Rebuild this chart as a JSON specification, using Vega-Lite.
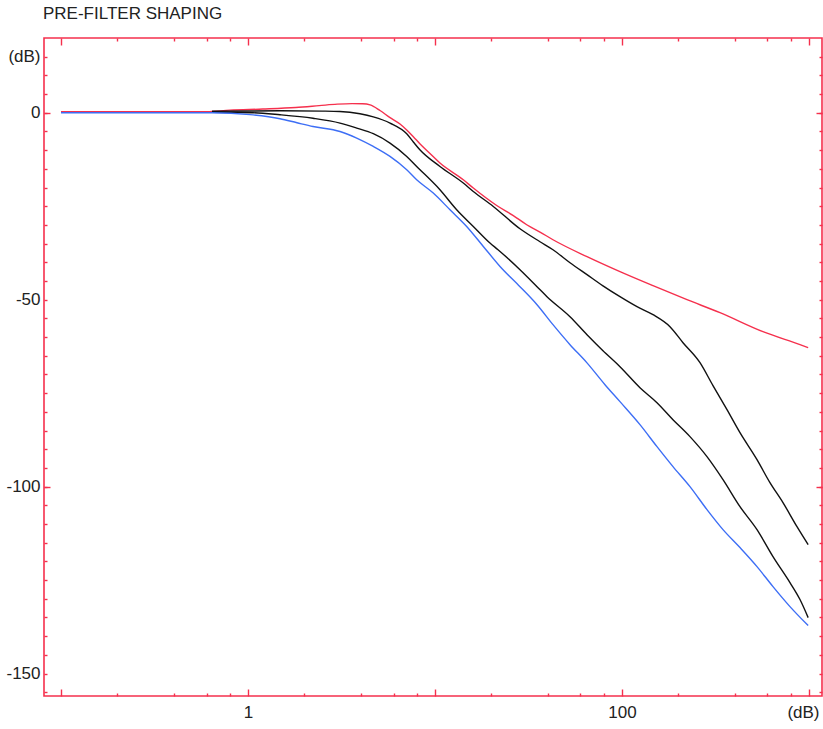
{
  "$schema": "https://vega.github.io/schema/vega-lite/v6.json",
  "width": 778,
  "height": 658,
  "autosize": {"type": "none"},
  "padding": {"left": 44, "top": 38, "right": 1, "bottom": 33},
  "background": "white",
  "title": {"text": "PRE-FILTER SHAPING", "anchor": "start", "frame": "group", "dx": -1, "font": "Liberation Sans", "fontSize": 17, "fontWeight": "normal", "color": "#222222", "offset": 14},
  "config": {
    "view": {"stroke": "#f5304d", "strokeWidth": 1.6},
    "axis": {"domain": false, "grid": false, "tickColor": "#f5304d", "tickWidth": 1.4, "labelFont": "Liberation Sans", "labelFontSize": 17, "labelColor": "#222222", "title": null, "labelOverlap": false, "labelBound": false, "labelFlush": false}
  },
  "data": {"values": [
    {"s": "red", "f": 0.1, "db": 0.27}, {"s": "red", "f": 0.6, "db": 0.3}, {"s": "red", "f": 0.8, "db": 0.7}, {"s": "red", "f": 1.2, "db": 1.0}, {"s": "red", "f": 1.8, "db": 1.4}, {"s": "red", "f": 2.4, "db": 1.9}, {"s": "red", "f": 3.0, "db": 2.3}, {"s": "red", "f": 3.6, "db": 2.45}, {"s": "red", "f": 4.1, "db": 2.4}, {"s": "red", "f": 4.5, "db": 2.1}, {"s": "red", "f": 5.08, "db": 0.6}, {"s": "red", "f": 5.75, "db": -1.3}, {"s": "red", "f": 6.5, "db": -3.0}, {"s": "red", "f": 7.06, "db": -4.6}, {"s": "red", "f": 7.66, "db": -6.4}, {"s": "red", "f": 8.3, "db": -8.3}, {"s": "red", "f": 9.4, "db": -10.9}, {"s": "red", "f": 10.63, "db": -13.45}, {"s": "red", "f": 14.17, "db": -17.91}, {"s": "red", "f": 16.03, "db": -20.13}, {"s": "red", "f": 21.38, "db": -24.8}, {"s": "red", "f": 26.23, "db": -27.5}, {"s": "red", "f": 30.94, "db": -29.95}, {"s": "red", "f": 36.43, "db": -31.9}, {"s": "red", "f": 42.76, "db": -33.96}, {"s": "red", "f": 65.0, "db": -38.5}, {"s": "red", "f": 97.57, "db": -42.51}, {"s": "red", "f": 146.5, "db": -46.26}, {"s": "red", "f": 222.7, "db": -50.0}, {"s": "red", "f": 334.3, "db": -53.48}, {"s": "red", "f": 567.5, "db": -58.56}, {"s": "red", "f": 895.3, "db": -62.03}, {"s": "red", "f": 990, "db": -62.83},
    {"s": "black1", "f": 0.642, "db": 0.4}, {"s": "black1", "f": 1.48, "db": 0.53}, {"s": "black1", "f": 2.5, "db": 0.45}, {"s": "black1", "f": 3.1, "db": 0.35}, {"s": "black1", "f": 3.97, "db": -0.27}, {"s": "black1", "f": 4.68, "db": -1.1}, {"s": "black1", "f": 5.75, "db": -2.75}, {"s": "black1", "f": 7.06, "db": -5.6}, {"s": "black1", "f": 7.66, "db": -7.8}, {"s": "black1", "f": 8.3, "db": -9.9}, {"s": "black1", "f": 10.63, "db": -14.36}, {"s": "black1", "f": 14.17, "db": -18.8}, {"s": "black1", "f": 16.03, "db": -21.04}, {"s": "black1", "f": 20.5, "db": -25.05}, {"s": "black1", "f": 28.48, "db": -31.02}, {"s": "black1", "f": 36.43, "db": -34.49}, {"s": "black1", "f": 42.76, "db": -36.63}, {"s": "black1", "f": 52.73, "db": -40.1}, {"s": "black1", "f": 65.0, "db": -43.3}, {"s": "black1", "f": 79.14, "db": -46.3}, {"s": "black1", "f": 97.57, "db": -49.2}, {"s": "black1", "f": 120.3, "db": -51.87}, {"s": "black1", "f": 146.5, "db": -54.01}, {"s": "black1", "f": 180.6, "db": -57.22}, {"s": "black1", "f": 212, "db": -61.5}, {"s": "black1", "f": 261.3, "db": -66.84}, {"s": "black1", "f": 306.7, "db": -73.0}, {"s": "black1", "f": 364.4, "db": -79.41}, {"s": "black1", "f": 427.6, "db": -85.56}, {"s": "black1", "f": 527.3, "db": -92.78}, {"s": "black1", "f": 618.5, "db": -98.93}, {"s": "black1", "f": 726.1, "db": -104.28}, {"s": "black1", "f": 862.8, "db": -110.7}, {"s": "black1", "f": 990, "db": -115.51},
    {"s": "black2", "f": 0.642, "db": 0.13}, {"s": "black2", "f": 1.063, "db": 0.0}, {"s": "black2", "f": 1.483, "db": -0.53}, {"s": "black2", "f": 2.227, "db": -1.47}, {"s": "black2", "f": 3.105, "db": -2.75}, {"s": "black2", "f": 3.814, "db": -4.09}, {"s": "black2", "f": 4.678, "db": -5.6}, {"s": "black2", "f": 5.745, "db": -8.1}, {"s": "black2", "f": 7.06, "db": -11.68}, {"s": "black2", "f": 7.98, "db": -14.36}, {"s": "black2", "f": 10.63, "db": -20.59}, {"s": "black2", "f": 13.06, "db": -25.94}, {"s": "black2", "f": 16.03, "db": -30.4}, {"s": "black2", "f": 19.68, "db": -34.84}, {"s": "black2", "f": 21.73, "db": -36.63}, {"s": "black2", "f": 28.48, "db": -41.98}, {"s": "black2", "f": 35.13, "db": -46.52}, {"s": "black2", "f": 39.71, "db": -49.2}, {"s": "black2", "f": 52.73, "db": -54.55}, {"s": "black2", "f": 65.0, "db": -59.36}, {"s": "black2", "f": 79.14, "db": -63.64}, {"s": "black2", "f": 97.57, "db": -67.91}, {"s": "black2", "f": 124.8, "db": -73.53}, {"s": "black2", "f": 153.9, "db": -77.54}, {"s": "black2", "f": 187.4, "db": -82.09}, {"s": "black2", "f": 231, "db": -86.63}, {"s": "black2", "f": 284.8, "db": -91.98}, {"s": "black2", "f": 346.9, "db": -98.13}, {"s": "black2", "f": 427.6, "db": -105.35}, {"s": "black2", "f": 527.3, "db": -111.5}, {"s": "black2", "f": 642, "db": -118.72}, {"s": "black2", "f": 791.4, "db": -125.67}, {"s": "black2", "f": 895.3, "db": -130.2}, {"s": "black2", "f": 990, "db": -135.03},
    {"s": "blue", "f": 0.1, "db": 0.0}, {"s": "blue", "f": 0.642, "db": 0.0}, {"s": "blue", "f": 1.025, "db": -0.5}, {"s": "blue", "f": 1.483, "db": -1.6}, {"s": "blue", "f": 1.828, "db": -2.67}, {"s": "blue", "f": 2.227, "db": -3.66}, {"s": "blue", "f": 3.105, "db": -5.0}, {"s": "blue", "f": 3.814, "db": -6.76}, {"s": "blue", "f": 4.678, "db": -9.01}, {"s": "blue", "f": 5.745, "db": -11.68}, {"s": "blue", "f": 7.06, "db": -15.24}, {"s": "blue", "f": 7.98, "db": -17.91}, {"s": "blue", "f": 9.79, "db": -21.47}, {"s": "blue", "f": 12.03, "db": -25.94}, {"s": "blue", "f": 14.77, "db": -30.4}, {"s": "blue", "f": 18.13, "db": -35.75}, {"s": "blue", "f": 22.27, "db": -41.1}, {"s": "blue", "f": 28.48, "db": -46.52}, {"s": "blue", "f": 35.13, "db": -51.34}, {"s": "blue", "f": 42.76, "db": -56.68}, {"s": "blue", "f": 52.73, "db": -62.03}, {"s": "blue", "f": 65.0, "db": -66.9}, {"s": "blue", "f": 81.12, "db": -72.73}, {"s": "blue", "f": 97.57, "db": -77.27}, {"s": "blue", "f": 124.8, "db": -83.42}, {"s": "blue", "f": 153.9, "db": -89.3}, {"s": "blue", "f": 187.4, "db": -94.65}, {"s": "blue", "f": 231, "db": -100.0}, {"s": "blue", "f": 284.8, "db": -106.15}, {"s": "blue", "f": 346.9, "db": -111.5}, {"s": "blue", "f": 427.6, "db": -116.3}, {"s": "blue", "f": 527.3, "db": -121.39}, {"s": "blue", "f": 642, "db": -126.74}, {"s": "blue", "f": 791.4, "db": -132.09}, {"s": "blue", "f": 990, "db": -137.17}
  ]},
  "layer": [
    {
      "mark": {"type": "line", "strokeWidth": 1.4, "interpolate": "monotone"},
      "encoding": {
        "x": {"field": "f", "type": "quantitative", "scale": {"type": "log", "domain": [0.0811, 1174], "nice": false},
              "axis": {"orient": "bottom", "values": [0.1, 1, 10, 100, 1000], "tickSize": -7, "labelPadding": 15,
                       "labelExpr": "datum.value == 1 ? '1' : datum.value == 100 ? '100' : datum.value == 1000 ? '(dB)' : ''",
                       "labelOffset": {"condition": {"test": "datum.value == 1000", "value": -6}, "value": 0}}},
        "y": {"field": "db", "type": "quantitative", "scale": {"domain": [-156, 20], "nice": false, "zero": false},
              "axis": {"orient": "left", "values": [0, -100], "tickSize": -6, "labels": false}},
        "color": {"field": "s", "type": "nominal", "scale": {"domain": ["red", "black1", "black2", "blue"], "range": ["#f5304d", "#111111", "#111111", "#3d6ef5"]}, "legend": null}
      }
    },
    {
      "mark": {"type": "point", "opacity": 0},
      "encoding": {
        "x": {"field": "f", "type": "quantitative", "scale": {"type": "log", "domain": [0.0811, 1174], "nice": false},
              "axis": {"orient": "top", "values": [0.1, 1, 10, 100, 1000], "tickSize": -7, "labels": false}},
        "y": {"field": "db", "type": "quantitative", "scale": {"domain": [-156, 20], "nice": false, "zero": false},
              "axis": {"orient": "right", "values": [0, -100], "tickSize": -6, "labels": false}}
      }
    },
    {
      "mark": {"type": "point", "opacity": 0},
      "encoding": {
        "x": {"field": "f", "type": "quantitative", "scale": {"type": "log", "domain": [0.0811, 1174], "nice": false},
              "axis": {"orient": "bottom", "values": [0.2, 0.4, 0.6, 0.8, 2, 4, 6, 8, 20, 40, 60, 80, 200, 400, 600, 800], "tickSize": -3, "labels": false}},
        "y": {"field": "db", "type": "quantitative", "scale": {"domain": [-156, 20], "nice": false, "zero": false},
              "axis": {"orient": "left", "values": [15, 10, 5, 0, -5, -10, -15, -20, -25, -30, -35, -40, -45, -50, -55, -60, -65, -70, -75, -80, -85, -90, -95, -100, -105, -110, -115, -120, -125, -130, -135, -140, -145, -150, -155], "tickSize": -3, "labelPadding": 7,
                       "labelExpr": "datum.value == 15 ? '(dB)' : (datum.value % 50 == 0 ? '' + datum.value : '')"}}
      }
    },
    {
      "mark": {"type": "point", "opacity": 0},
      "encoding": {
        "x": {"field": "f", "type": "quantitative", "scale": {"type": "log", "domain": [0.0811, 1174], "nice": false},
              "axis": {"orient": "top", "values": [0.2, 0.4, 0.6, 0.8, 2, 4, 6, 8, 20, 40, 60, 80, 200, 400, 600, 800], "tickSize": -3, "labels": false}},
        "y": {"field": "db", "type": "quantitative", "scale": {"domain": [-156, 20], "nice": false, "zero": false},
              "axis": {"orient": "right", "values": [15, 10, 5, 0, -5, -10, -15, -20, -25, -30, -35, -40, -45, -50, -55, -60, -65, -70, -75, -80, -85, -90, -95, -100, -105, -110, -115, -120, -125, -130, -135, -140, -145, -150, -155], "tickSize": -3, "labels": false}}
      }
    }
  ],
  "resolve": {"axis": {"x": "independent", "y": "independent"}}
}
